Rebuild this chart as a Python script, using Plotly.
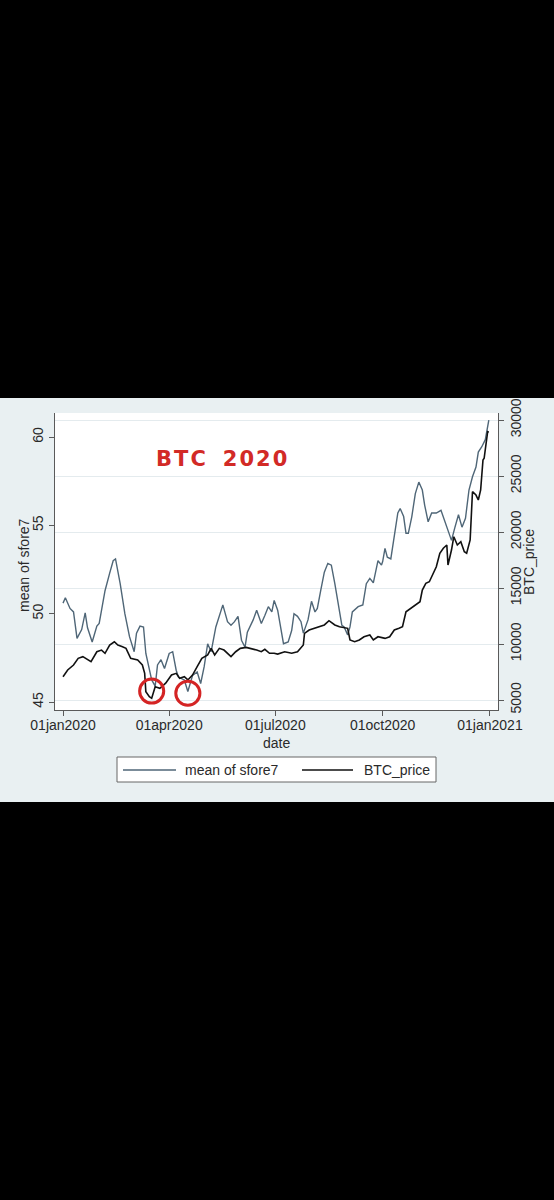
import plotly.graph_objects as go

# ---------------- data ----------------
sfore7_dates = [
    "2020-01-01", "2020-01-03", "2020-01-07", "2020-01-10", "2020-01-13", "2020-01-17",
    "2020-01-20", "2020-01-22", "2020-01-26", "2020-01-30", "2020-02-01", "2020-02-06",
    "2020-02-10", "2020-02-13", "2020-02-15", "2020-02-19", "2020-02-23", "2020-02-27",
    "2020-03-02", "2020-03-04", "2020-03-07", "2020-03-10", "2020-03-12", "2020-03-17",
    "2020-03-20", "2020-03-22", "2020-03-25", "2020-03-28", "2020-04-01", "2020-04-04",
    "2020-04-07", "2020-04-09", "2020-04-14", "2020-04-17", "2020-04-21", "2020-04-25",
    "2020-04-28", "2020-05-01", "2020-05-04", "2020-05-07", "2020-05-11", "2020-05-17",
    "2020-05-21", "2020-05-24", "2020-05-27", "2020-05-30", "2020-06-02", "2020-06-05",
    "2020-06-07", "2020-06-12", "2020-06-15", "2020-06-19", "2020-06-22", "2020-06-25",
    "2020-06-28", "2020-06-30", "2020-07-03", "2020-07-06", "2020-07-08", "2020-07-12",
    "2020-07-15", "2020-07-17", "2020-07-20", "2020-07-23", "2020-07-25", "2020-07-29",
    "2020-08-01", "2020-08-04", "2020-08-06", "2020-08-09", "2020-08-12", "2020-08-15",
    "2020-08-18", "2020-08-21", "2020-08-24", "2020-08-27", "2020-08-29", "2020-09-01",
    "2020-09-03", "2020-09-05", "2020-09-10", "2020-09-14", "2020-09-17", "2020-09-20",
    "2020-09-23", "2020-09-27", "2020-09-30", "2020-10-01", "2020-10-03", "2020-10-05",
    "2020-10-08", "2020-10-11", "2020-10-14", "2020-10-16", "2020-10-19", "2020-10-21",
    "2020-10-23", "2020-10-26", "2020-10-29", "2020-11-01", "2020-11-04", "2020-11-06",
    "2020-11-09", "2020-11-12", "2020-11-16", "2020-11-20", "2020-11-23", "2020-11-26",
    "2020-11-29", "2020-12-02", "2020-12-05", "2020-12-08", "2020-12-11", "2020-12-14",
    "2020-12-17", "2020-12-20", "2020-12-22", "2020-12-25", "2020-12-28", "2020-12-31",
]
sfore7_values = [
    50.6, 50.9, 50.3, 50.1, 48.6, 49.1,
    50.05, 49.2, 48.4, 49.3, 49.45, 51.3,
    52.3, 53.0, 53.1, 51.7, 50.0, 48.7,
    47.85, 48.9, 49.3, 49.25, 47.75, 46.25,
    45.9, 47.1, 47.4, 46.9, 47.75, 47.85,
    46.8, 46.4, 46.25, 45.6, 46.5, 46.7,
    46.05, 47.0, 48.3, 47.85, 49.25, 50.5,
    49.55, 49.35, 49.55, 49.85, 48.5, 48.1,
    48.95, 49.65, 50.2, 49.45, 49.9, 50.4,
    50.1, 50.75, 50.2, 48.9, 48.3, 48.4,
    49.05, 50.0, 49.85, 49.55, 48.9, 49.65,
    50.7, 50.1, 50.3, 51.35, 52.35, 52.85,
    52.75, 51.7, 50.4, 49.35, 49.25, 48.8,
    49.25, 50.1, 50.4, 50.5, 51.7, 52.0,
    51.75, 53.0, 52.75, 52.95, 53.7, 53.2,
    53.1, 54.35, 55.7, 55.95, 55.5, 54.55,
    54.55, 55.5, 56.8, 57.45, 57.0, 56.15,
    55.2, 55.7, 55.7, 55.85, 55.3, 54.65,
    54.15, 54.9, 55.6, 54.9, 55.4, 57.0,
    57.75, 58.3, 59.15, 59.45, 59.85, 60.95,
]

btc_dates = [
    "2020-01-01", "2020-01-05", "2020-01-10", "2020-01-14", "2020-01-18", "2020-01-22",
    "2020-01-25", "2020-01-30", "2020-02-03", "2020-02-06", "2020-02-10", "2020-02-14",
    "2020-02-17", "2020-02-21", "2020-02-24", "2020-02-28", "2020-03-05", "2020-03-09",
    "2020-03-11", "2020-03-12", "2020-03-15", "2020-03-17", "2020-03-20", "2020-03-24",
    "2020-03-29", "2020-04-03", "2020-04-07", "2020-04-10", "2020-04-14", "2020-04-17",
    "2020-04-21", "2020-04-25", "2020-04-29", "2020-05-04", "2020-05-07", "2020-05-10",
    "2020-05-14", "2020-05-18", "2020-05-24", "2020-05-28", "2020-06-01", "2020-06-06",
    "2020-06-10", "2020-06-15", "2020-06-19", "2020-06-22", "2020-06-26", "2020-06-30",
    "2020-07-03", "2020-07-09", "2020-07-15", "2020-07-20", "2020-07-25", "2020-07-26",
    "2020-07-30", "2020-08-04", "2020-08-08", "2020-08-12", "2020-08-16", "2020-08-21",
    "2020-08-25", "2020-08-29", "2020-09-01", "2020-09-03", "2020-09-07", "2020-09-11",
    "2020-09-15", "2020-09-20", "2020-09-23", "2020-09-27", "2020-10-03", "2020-10-07",
    "2020-10-11", "2020-10-15", "2020-10-18", "2020-10-21", "2020-10-25", "2020-10-30",
    "2020-11-02", "2020-11-04", "2020-11-07", "2020-11-10", "2020-11-13", "2020-11-16",
    "2020-11-19", "2020-11-22", "2020-11-25", "2020-11-26", "2020-11-29", "2020-12-01",
    "2020-12-04", "2020-12-07", "2020-12-10", "2020-12-12", "2020-12-15", "2020-12-17",
    "2020-12-20", "2020-12-22", "2020-12-24", "2020-12-26", "2020-12-27", "2020-12-29",
    "2020-12-30", "2020-12-31",
]
btc_values = [
    7080, 7680, 8125, 8720, 8870, 8570,
    8420, 9310, 9460, 9170, 9910, 10200,
    9910, 9760, 9610, 8720, 8570, 8125,
    7380, 5740, 5295, 5150, 6190, 6040,
    6500, 7230, 7380, 6940, 7080, 6790,
    7230, 7970, 8720, 9020, 9610, 9020,
    9610, 9460, 8870, 9310, 9610, 9700,
    9610, 9460, 9310, 9520, 9170, 9170,
    9100, 9310, 9170, 9310, 9910, 10950,
    11250, 11400, 11540, 11700, 12080, 11700,
    11540, 11480, 11400, 10360, 10200, 10360,
    10650, 10800, 10360, 10650, 10500, 10650,
    11250, 11400, 11540, 12880, 13180, 13630,
    13780, 14820, 15420, 15560, 16310, 16900,
    18100, 18550, 18840, 17050, 18390, 19580,
    18840, 19140, 18240, 18100, 19290, 23600,
    23300, 22860, 23750, 26430, 26580, 28060,
    28950, 28900,
]

x_tick_dates = ["2020-01-01", "2020-04-01", "2020-07-01", "2020-10-01", "2021-01-01"]
x_tick_labels = ["01jan2020", "01apr2020", "01jul2020", "01oct2020", "01jan2021"]
y1_ticks = [45, 50, 55, 60]
y1_tick_labels = ["45", "50", "55", "60"]
y2_ticks = [5000, 10000, 15000, 20000, 25000, 30000]
y2_tick_labels = ["5000", "10000", "15000", "20000", "25000", "30000"]

series_names = ["mean of sfore7", "BTC_price"]
title_text = "B\u200aT\u200aC\u2002\u2009\u200a2\u200a0\u200a2\u200a0"

# ---------------- layout geometry (pixels) ----------------
W, H = 554, 1200
L, R, T, B = 55, 498, 413, 710  # plot area
PANEL_TOP, PANEL_BOTTOM = 398, 802


def px_x(px):
    return (px - L) / (R - L)


def px_y(py):
    return (B - py) / (B - T)


SFORE_COLOR = "#4f6677"
BTC_COLOR = "#111111"
AXIS_COLOR = "#5a5a5a"
TEXT_COLOR = "#2a2a2a"
FONT = "Liberation Sans, Arial, sans-serif"

fig = go.Figure()
fig.add_trace(go.Scatter(x=sfore7_dates, y=sfore7_values, mode="lines", name=series_names[0],
                         line=dict(color=SFORE_COLOR, width=1.4), yaxis="y", showlegend=False))
fig.add_trace(go.Scatter(x=btc_dates, y=btc_values, mode="lines", name=series_names[1],
                         line=dict(color=BTC_COLOR, width=1.6), yaxis="y2", showlegend=False))

shapes = [
    # light graph region
    dict(type="rect", xref="paper", yref="paper", x0=px_x(0), x1=px_x(W),
         y0=px_y(PANEL_BOTTOM), y1=px_y(PANEL_TOP), fillcolor="#e9f0f2",
         line=dict(width=0), layer="below"),
    # white plot region
    dict(type="rect", xref="paper", yref="paper", x0=0, x1=1, y0=0, y1=1,
         fillcolor="white", line=dict(width=0), layer="below"),
    # legend box
    dict(type="rect", xref="paper", yref="paper", x0=px_x(117), x1=px_x(436),
         y0=px_y(782), y1=px_y(757), fillcolor="white",
         line=dict(color="#666666", width=1)),
    dict(type="line", xref="paper", yref="paper", x0=px_x(123), x1=px_x(176),
         y0=px_y(770), y1=px_y(770), line=dict(color=SFORE_COLOR, width=1.4)),
    dict(type="line", xref="paper", yref="paper", x0=px_x(302), x1=px_x(353),
         y0=px_y(770), y1=px_y(770), line=dict(color=BTC_COLOR, width=1.6)),
    # red circles
    dict(type="circle", xref="x", yref="y", x0="2020-03-06 16:00", x1="2020-03-27 08:00",
         y0=44.94, y1=46.30, line=dict(color="#d42424", width=3)),
    dict(type="circle", xref="x", yref="y", x0="2020-04-06 16:00", x1="2020-04-27 08:00",
         y0=44.82, y1=46.18, line=dict(color="#d42424", width=3)),
]

annotations = [
    dict(text=title_text, xref="paper", yref="paper", x=px_x(221), y=px_y(459),
         xanchor="center", yanchor="middle", showarrow=False,
         font=dict(family="DejaVu Sans", size=21, color="#d22a26", weight="bold")),
    dict(text="mean of sfore7", xref="paper", yref="paper", x=px_x(24), y=px_y(565),
         textangle=-90, xanchor="center", yanchor="middle", showarrow=False,
         font=dict(family=FONT, size=14, color=TEXT_COLOR)),
    dict(text="BTC_price", xref="paper", yref="paper", x=px_x(529), y=px_y(562),
         textangle=-90, xanchor="center", yanchor="middle", showarrow=False,
         font=dict(family=FONT, size=14, color=TEXT_COLOR)),
    dict(text="date", xref="paper", yref="paper", x=px_x(276), y=px_y(743),
         xanchor="center", yanchor="middle", showarrow=False,
         font=dict(family=FONT, size=14, color=TEXT_COLOR)),
    dict(text=series_names[0], xref="paper", yref="paper", x=px_x(183), y=px_y(770),
         xanchor="left", yanchor="middle", showarrow=False,
         font=dict(family=FONT, size=14, color=TEXT_COLOR)),
    dict(text=series_names[1], xref="paper", yref="paper", x=px_x(362), y=px_y(770),
         xanchor="left", yanchor="middle", showarrow=False,
         font=dict(family=FONT, size=14, color=TEXT_COLOR)),
]

fig.update_layout(
    width=W, height=H, autosize=False,
    margin=dict(l=L, r=W - R, t=T, b=H - B, pad=0),
    paper_bgcolor="black",
    plot_bgcolor="rgba(0,0,0,0)",
    font=dict(family=FONT, size=14, color=TEXT_COLOR),
    showlegend=False,
    xaxis=dict(
        type="date", range=["2019-12-25 03:00", "2021-01-07 21:00"],
        tickmode="array", tickvals=x_tick_dates, ticktext=x_tick_labels,
        ticks="outside", ticklen=5, tickwidth=1, tickcolor=AXIS_COLOR,
        ticklabelstandoff=-3,
        showline=True, linecolor=AXIS_COLOR, linewidth=1, mirror=False,
        showgrid=False, zeroline=False, tickfont=dict(size=14, color=TEXT_COLOR),
    ),
    yaxis=dict(
        range=[44.55, 61.36], tickmode="array", tickvals=y1_ticks, ticktext=y1_tick_labels,
        tickangle=-90, ticks="outside", ticklen=5, tickwidth=1, tickcolor=AXIS_COLOR,
        showline=True, linecolor=AXIS_COLOR, linewidth=1,
        showgrid=False, zeroline=False, tickfont=dict(size=14, color=TEXT_COLOR),
    ),
    yaxis2=dict(
        range=[4107, 30625], overlaying="y", side="right", anchor="x",
        tickmode="array", tickvals=y2_ticks, ticktext=y2_tick_labels,
        tickangle=-90, ticks="outside", ticklen=5, tickwidth=1, tickcolor=AXIS_COLOR,
        showline=True, linecolor=AXIS_COLOR, linewidth=1,
        showgrid=True, gridcolor="#e4ebee", gridwidth=1,
        zeroline=False, tickfont=dict(size=14, color=TEXT_COLOR),
    ),
    shapes=shapes,
    annotations=annotations,
)

fig.write_html("out.html")
